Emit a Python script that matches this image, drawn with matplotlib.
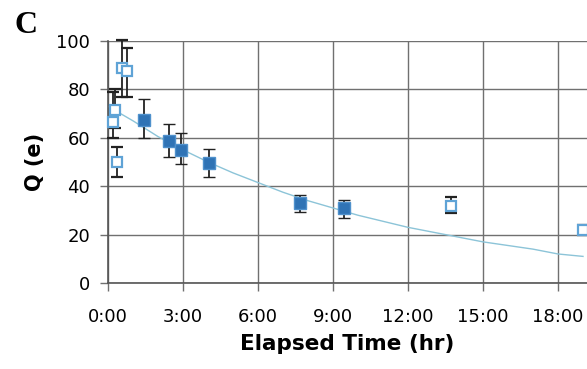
import matplotlib
matplotlib.use("Agg")
import matplotlib.pyplot as plt

# measured charge vs elapsed time (hours)
open_t = [0.20, 0.28, 0.35, 0.55, 0.75, 13.7, 19.0]
open_q = [66.5, 71.5, 50.0, 89.0, 87.5, 32.0, 22.0]
open_lo = [60.0, 64.0, 44.0, 77.0, 77.0, 29.0, 20.0]
open_hi = [79.0, 80.0, 56.0, 100.5, 97.0, 35.5, 24.0]

fill_t = [1.44, 2.44, 2.92, 4.04, 7.68, 9.44]
fill_q = [67.5, 58.5, 55.0, 49.5, 33.0, 31.0]
fill_lo = [60.0, 52.0, 49.0, 44.0, 29.5, 27.0]
fill_hi = [76.0, 65.5, 62.0, 55.5, 36.5, 34.5]

# fitted decay curve at each hour
fit_t = list(range(0, 20))
fit_q = [73, 67, 60.5, 55, 50, 45.5, 41.5, 37.5, 34, 31, 28, 25.5,
         23, 21, 19, 17, 15.5, 14, 12, 11]

xticks = [0, 3, 6, 9, 12, 15, 18]
xticklabels = ["0:00", "3:00", "6:00", "9:00", "12:00", "15:00", "18:00"]
yticks = [0, 20, 40, 60, 80, 100]

plt.rcParams['font.family'] = ['DejaVu Sans']

fig = plt.figure(figsize=(5.87, 3.69), dpi=100)
ax = fig.add_axes([0.184, 0.233, 0.816, 0.656])

ax.plot(fit_t, fit_q, color='#8cc4d8', lw=1.0, zorder=2)

def err(q, lo, hi):
    return [[a - b for a, b in zip(q, lo)], [b - a for a, b in zip(q, hi)]]

ax.errorbar(fill_t, fill_q, yerr=err(fill_q, fill_lo, fill_hi), fmt='s',
            ms=8, mfc='#2f73b5', mec='#4f91cc', mew=1.0,
            ecolor='#222222', elinewidth=1.3, capsize=4, capthick=1.3, zorder=4)
ax.errorbar(open_t, open_q, yerr=err(open_q, open_lo, open_hi), fmt='s',
            ms=7.5, mfc='white', mec='#5fa3d6', mew=1.6,
            ecolor='#222222', elinewidth=1.3, capsize=4, capthick=1.3, zorder=4,
            clip_on=False)

ax.set_xlim(0, 19.16)
ax.set_ylim(0, 100)
ax.set_xticks(xticks)
ax.set_xticklabels(xticklabels)
ax.set_yticks(yticks)
ax.grid(True, color='#707070', lw=1.0)
ax.set_axisbelow(True)
for s in ['top', 'right']:
    ax.spines[s].set_visible(False)
for s in ['left', 'bottom']:
    ax.spines[s].set_color('#555555')
    ax.spines[s].set_linewidth(1.2)
ax.tick_params(direction='out', length=6, width=1.0, color='#707070',
               labelsize=13)
ax.tick_params(axis='y', pad=7)
ax.tick_params(axis='x', pad=12)

ax.set_xlabel('Elapsed Time (hr)', fontsize=15.5, fontweight='bold', labelpad=6)
ax.set_ylabel('Q (e)', fontsize=15, fontweight='bold', labelpad=8)

fig.text(0.025, 0.97, 'C', fontsize=23, fontweight='bold',
         family='Liberation Serif', va='top', ha='left')

fig.savefig('out.png', dpi=100)
